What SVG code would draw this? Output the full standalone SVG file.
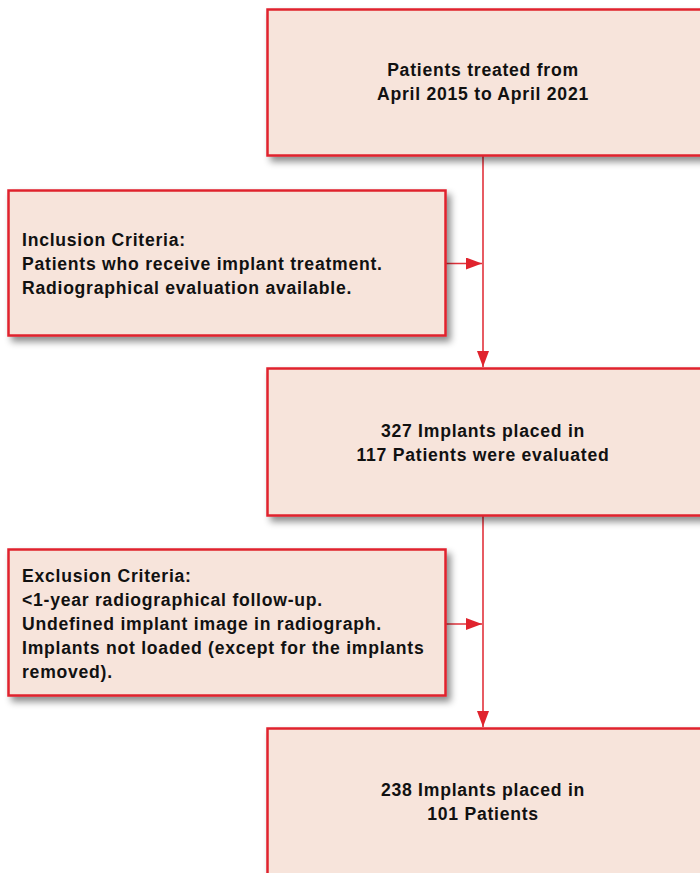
<svg xmlns="http://www.w3.org/2000/svg" width="700" height="873" viewBox="0 0 700 873">
<style>
.box{fill:#f7e4db;stroke:#e0232d;stroke-width:2.5;filter:url(#sh)}
.t{font-family:"Liberation Sans",Arial,sans-serif;font-weight:bold;font-size:17.6px;letter-spacing:0.75px;fill:#111}
.c{text-anchor:middle}
.ln{stroke:#e2333c;stroke-width:1.6;fill:none}
</style>
<defs>
<filter id="sh" x="-10%" y="-10%" width="130%" height="140%">
<feDropShadow dx="4" dy="5" stdDeviation="3.5" flood-color="#000" flood-opacity="0.45"/>
</filter>
<marker id="ah" markerWidth="16" markerHeight="12" refX="16" refY="6" orient="auto" markerUnits="userSpaceOnUse">
<path d="M0,0 L16,6 L0,12 Z" fill="#e0232d"/>
</marker>
</defs>
<g id="connectors">
<line class="ln" x1="483" y1="156" x2="483" y2="367" marker-end="url(#ah)"/>
<line class="ln" x1="446" y1="263.5" x2="482" y2="263.5" marker-end="url(#ah)"/>
<line class="ln" x1="483" y1="516" x2="483" y2="727" marker-end="url(#ah)"/>
<line class="ln" x1="446" y1="624" x2="482" y2="624" marker-end="url(#ah)"/>
</g>
<g id="n1">
<rect class="box" x="267.5" y="9.5" width="450" height="146"/>
<text class="t c" x="483" y="76">Patients treated from</text>
<text class="t c" x="483" y="100">April 2015 to April 2021</text>
</g>
<g id="n2">
<rect class="box" x="8.5" y="190.5" width="437" height="145"/>
<text class="t" x="22" y="246">Inclusion Criteria:</text>
<text class="t" x="22" y="270">Patients who receive implant treatment.</text>
<text class="t" x="22" y="294">Radiographical evaluation available.</text>
</g>
<g id="n3">
<rect class="box" x="267.5" y="368.5" width="450" height="147"/>
<text class="t c" x="483" y="437">327 Implants placed in</text>
<text class="t c" x="483" y="461">117 Patients were evaluated</text>
</g>
<g id="n4">
<rect class="box" x="8.5" y="549.5" width="437" height="146"/>
<text class="t" x="22" y="582">Exclusion Criteria:</text>
<text class="t" x="22" y="606">&lt;1-year radiographical follow-up.</text>
<text class="t" x="22" y="630">Undefined implant image in radiograph.</text>
<text class="t" x="22" y="654">Implants not loaded (except for the implants</text>
<text class="t" x="22" y="678">removed).</text>
</g>
<g id="n5">
<rect class="box" x="267.5" y="728.5" width="450" height="160"/>
<text class="t c" x="483" y="796">238 Implants placed in</text>
<text class="t c" x="483" y="820">101 Patients</text>
</g>
</svg>
